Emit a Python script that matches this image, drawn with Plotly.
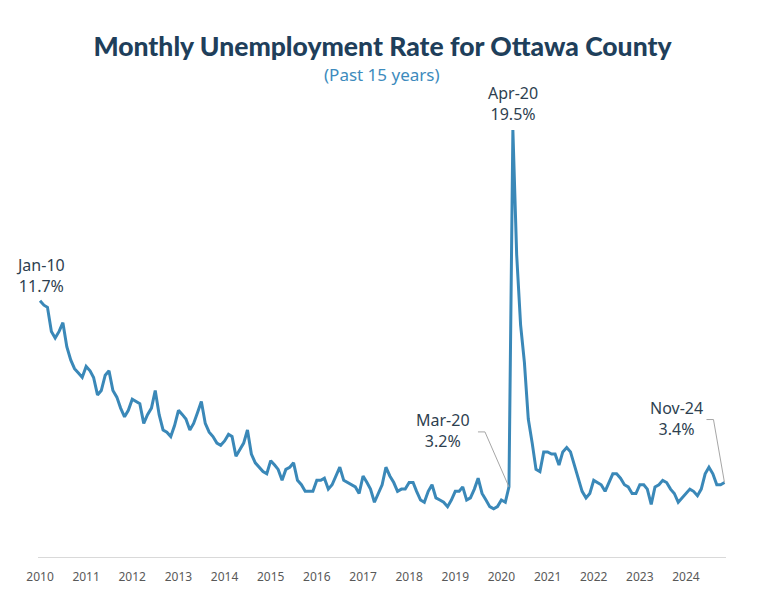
import pandas as pd
import plotly.graph_objects as go

# Monthly unemployment rate (%), Jan 2010 - Nov 2024
rate_2010 = [11.7, 11.5, 11.4, 10.3, 10.0, 10.3, 10.7, 9.6, 9.0, 8.6, 8.4, 8.2]
rate_2011 = [8.7, 8.5, 8.2, 7.4, 7.6, 8.3, 8.5, 7.6, 7.3, 6.8, 6.4, 6.7]
rate_2012 = [7.2, 7.1, 7.0, 6.1, 6.5, 6.8, 7.6, 6.5, 5.8, 5.7, 5.5, 6.0]
rate_2013 = [6.7, 6.5, 6.3, 5.8, 6.1, 6.6, 7.1, 6.1, 5.7, 5.5, 5.2, 5.1]
rate_2014 = [5.3, 5.6, 5.5, 4.6, 4.9, 5.2, 5.8, 4.7, 4.3, 4.1, 3.9, 3.8]
rate_2015 = [4.4, 4.2, 4.0, 3.5, 4.0, 4.1, 4.3, 3.5, 3.3, 3.0, 3.0, 3.0]
rate_2016 = [3.5, 3.5, 3.6, 3.1, 3.3, 3.7, 4.1, 3.5, 3.4, 3.3, 3.2, 2.9]
rate_2017 = [3.7, 3.4, 3.1, 2.5, 2.9, 3.3, 4.1, 3.7, 3.4, 3.0, 3.1, 3.1]
rate_2018 = [3.4, 3.4, 3.0, 2.6, 2.5, 3.0, 3.3, 2.7, 2.6, 2.5, 2.3, 2.6]
rate_2019 = [3.0, 3.0, 3.2, 2.6, 2.7, 3.1, 3.6, 2.9, 2.6, 2.3, 2.2, 2.3]
rate_2020 = [2.6, 2.5, 3.2, 19.5, 13.8, 10.6, 8.9, 6.3, 5.2, 4.0, 3.9, 4.8]
rate_2021 = [4.8, 4.7, 4.7, 4.2, 4.8, 5.0, 4.8, 4.2, 3.5, 3.0, 2.7, 2.9]
rate_2022 = [3.5, 3.4, 3.3, 3.0, 3.4, 3.8, 3.8, 3.6, 3.3, 3.2, 2.9, 2.9]
rate_2023 = [3.3, 3.3, 3.1, 2.4, 3.2, 3.3, 3.5, 3.4, 3.1, 2.9, 2.5, 2.7]
rate_2024 = [2.9, 3.1, 3.0, 2.8, 3.1, 3.8, 4.1, 3.8, 3.3, 3.3, 3.4]

rates = (rate_2010 + rate_2011 + rate_2012 + rate_2013 + rate_2014 + rate_2015 +
         rate_2016 + rate_2017 + rate_2018 + rate_2019 + rate_2020 + rate_2021 +
         rate_2022 + rate_2023 + rate_2024)
months = pd.date_range("2010-01-01", periods=len(rates), freq="MS")

tick_years = [str(y) for y in range(2010, 2025)]
tick_dates = [f"{y}-01-01" for y in tick_years]

# labelled points: (month, label)
callouts = [("2010-01-01", "Jan-10"), ("2020-04-01", "Apr-20"),
            ("2020-03-01", "Mar-20"), ("2024-11-01", "Nov-24")]

FONT = "Segoe UI, Noto Sans, Open Sans, sans-serif"
LINE = "#3a88b8"
TXT = "#2e3f50"

fig = go.Figure()
fig.add_trace(go.Scatter(x=months, y=rates, mode="lines",
                         line=dict(color=LINE, width=3), hoverinfo="x+y"))

def val(d):
    return rates[list(months).index(pd.Timestamp(d))]

annotations = []
shapes = []
for d, lab in callouts:
    v = val(d)
    txt = f"{lab}<br>{v:.1f}%"
    if lab in ("Jan-10", "Apr-20"):
        annotations.append(dict(x=d, y=v, xref="x", yref="y", text=txt,
                                showarrow=False, yanchor="bottom",
                                yshift=2 if lab == "Jan-10" else 3,
                                font=dict(size=16, color=TXT, family=FONT)))
    else:
        if lab == "Mar-20":
            dx, dy, p1, p2 = -66, 56, (-24, 55), (-31, 55)
        else:
            dx, dy, p1, p2 = -48, 64, (-11, 63), (-18, 63)
        annotations.append(dict(x=d, y=v, xref="x", yref="y", text=txt,
                                showarrow=False, xshift=dx, yshift=dy,
                                font=dict(size=16, color=TXT, family=FONT)))
        shapes.append(dict(type="path", xref="x", yref="y",
                           xsizemode="pixel", ysizemode="pixel",
                           xanchor=d, yanchor=v,
                           path=f"M0,0 L{p1[0]},{p1[1]} L{p2[0]},{p2[1]}",
                           line=dict(color="#a6a6a6", width=1)))

annotations.append(dict(x=0.5, y=(557 - 75) / 438, xref="paper", yref="paper",
                        xanchor="center", yanchor="middle",
                        text="(Past 15 years)", showarrow=False,
                        font=dict(size=17, color="#3d8bbd", family=FONT)))

fig.update_layout(
    width=765, height=589,
    margin=dict(l=38, r=39, t=119, b=32),
    paper_bgcolor="white", plot_bgcolor="white",
    showlegend=False,
    title=dict(text="Monthly Unemployment Rate for Ottawa County",
               x=0.5, xanchor="center", y=1 - 47 / 589, yanchor="middle",
               font=dict(size=26.5, color="#1f3f5b",
                         family="Lato, Noto Sans, sans-serif", weight=900)),
    xaxis=dict(type="date", range=["2009-12-16", "2024-11-13"],
               tickvals=tick_dates, ticktext=tick_years,
               showgrid=False, zeroline=False, automargin=False,
               showline=True, linecolor="#d9d9d9", linewidth=1,
               ticks="outside", ticklen=9, tickcolor="rgba(0,0,0,0)",
               tickfont=dict(size=12, color="#595959", family=FONT)),
    yaxis=dict(range=[0, 20], visible=False, showgrid=False, zeroline=False,
               automargin=False),
    annotations=annotations,
    shapes=shapes,
)

fig.write_html("out.html", config={"displayModeBar": False},
               post_script="document.body.style.margin='0';")
